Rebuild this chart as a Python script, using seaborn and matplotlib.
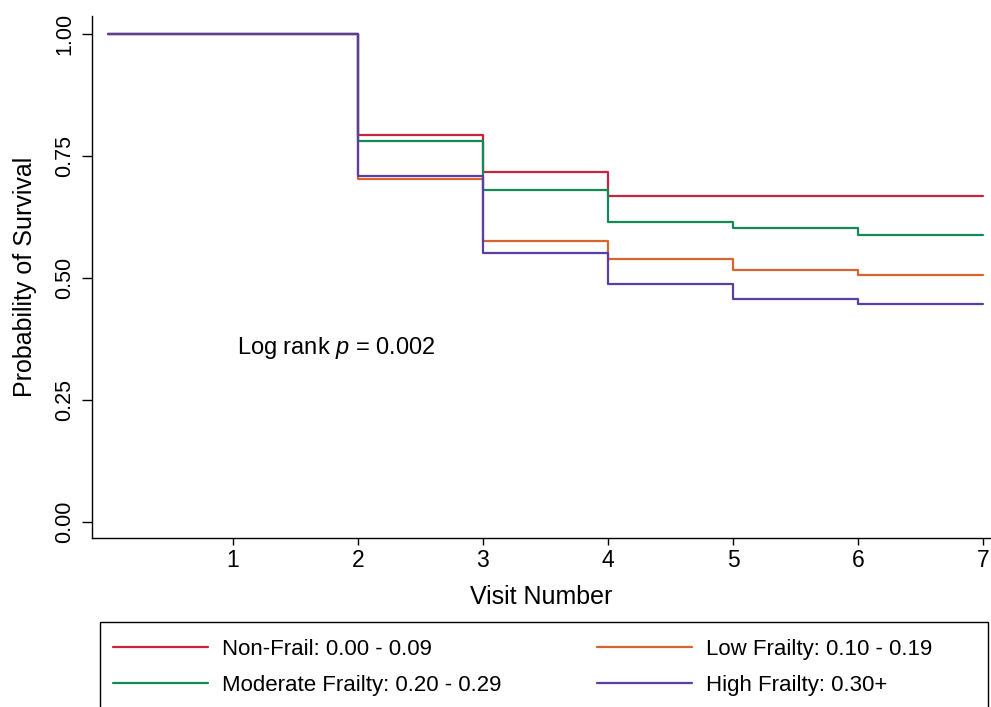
import matplotlib
matplotlib.use("Agg")
import matplotlib.pyplot as plt
import seaborn as sns
import pandas as pd
from matplotlib.lines import Line2D
from matplotlib.patches import Rectangle

visits = [0, 1, 2, 3, 4, 5, 6, 7]
non_frail = [1.0, 1.0, 0.793, 0.718, 0.668, 0.668, 0.668, 0.668]
low_frailty = [1.0, 1.0, 0.704, 0.577, 0.540, 0.517, 0.506, 0.506]
moderate_frailty = [1.0, 1.0, 0.782, 0.680, 0.615, 0.602, 0.589, 0.589]
high_frailty = [1.0, 1.0, 0.709, 0.552, 0.488, 0.457, 0.447, 0.447]

groups = ["Non-Frail: 0.00 - 0.09", "Low Frailty: 0.10 - 0.19",
          "Moderate Frailty: 0.20 - 0.29", "High Frailty: 0.30+"]
colors = ["#CB2240", "#D8652F", "#138A55", "#5A3EA3"]
yticks = [0.0, 0.25, 0.5, 0.75, 1.0]
ytick_labels = ["0.00", "0.25", "0.50", "0.75", "1.00"]
xticks = [1, 2, 3, 4, 5, 6, 7]

rows = []
for g, vals in zip(groups, [non_frail, low_frailty, moderate_frailty, high_frailty]):
    for v, s in zip(visits, vals):
        rows.append({"visit": v, "surv": s, "group": g})
df = pd.DataFrame(rows)

FONT = ["Liberation Sans", "DejaVu Sans"]
sns.set_style("white")
plt.rcParams["font.family"] = FONT
plt.rcParams["mathtext.fontset"] = "custom"
plt.rcParams["mathtext.rm"] = "Liberation Sans"
plt.rcParams["mathtext.it"] = "Liberation Sans:italic"
for key in ["text.color", "axes.labelcolor", "xtick.color", "ytick.color",
            "axes.edgecolor"]:
    plt.rcParams[key] = "black"

W, H = 991, 707
fig = plt.figure(figsize=(W / 100, H / 100), dpi=100)
ax = fig.add_axes([91.7 / W, 1 - 538.3 / H, 1 - 91.7 / W, (538.3 - 16) / H])

palette = dict(zip(groups, colors))
sns.lineplot(data=df, x="visit", y="surv", hue="group", palette=palette,
             drawstyle="steps-post", linewidth=1.6, ax=ax, legend=False,
             estimator=None, sort=False)

ax.set_xlim(-0.128, 7.062)
ax.set_ylim(-0.033, 1.0375)
ax.set_xticks(xticks)
ax.set_xticklabels([str(x) for x in xticks])
ax.set_yticks(yticks)
ax.set_yticklabels(ytick_labels, rotation=90, va="center")
ax.tick_params(axis="x", labelsize=16.5, direction="out", length=5, width=1,
               color="black", labelcolor="black", bottom=True, pad=3)
ax.tick_params(axis="y", labelsize=15.5, direction="out", length=7, width=1,
               color="black", labelcolor="black", left=True, pad=5)
for side in ["top", "right"]:
    ax.spines[side].set_visible(False)
for side in ["left", "bottom"]:
    ax.spines[side].set_color("black")
    ax.spines[side].set_linewidth(1.0)

ax.set_xlabel("Visit Number", fontsize=18, labelpad=9, color="black")
ax.set_ylabel("Probability of Survival", fontsize=18, labelpad=12, color="black")

ax.text(1.03, 0.357, "Log rank $p$ = 0.002", fontsize=17, ha="left",
        va="center", color="black")

# legend frame
fig.patches.append(Rectangle((100 / W, -0.01), 888 / W, 1 - 622 / H + 0.01,
                             transform=fig.transFigure, fill=False,
                             edgecolor="black", linewidth=1.0))

col1 = [0, 2]
col2 = [1, 3]
for idx, xpx in [(col1, 113), (col2, 597)]:
    handles = [Line2D([0], [0], color=colors[i], linewidth=1.6) for i in idx]
    labels = [groups[i] for i in idx]
    leg = fig.legend(handles, labels, loc="upper left",
                     bbox_to_anchor=(xpx / W, 1 - 639 / H),
                     fontsize=16, frameon=False, handlelength=4.28,
                     handletextpad=0.63, labelspacing=0.67, borderpad=0.0,
                     borderaxespad=0.0)
    for t in leg.get_texts():
        t.set_color("black")

fig.savefig("out.png", dpi=100)
